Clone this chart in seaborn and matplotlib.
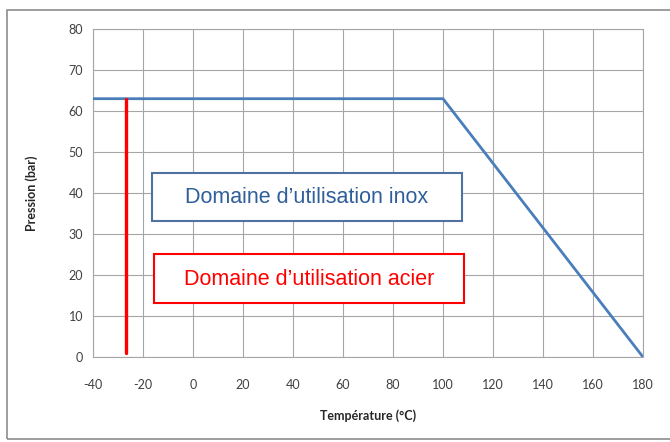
import matplotlib
matplotlib.use("Agg")
import matplotlib.pyplot as plt
import seaborn as sns
import pandas as pd
from matplotlib.patches import Rectangle

# Données
temperature_inox = [-40, 100, 180]
pression_inox = [63, 63, 0]
temperature_acier = [-27, -27]
pression_acier = [1, 63]

x_ticks = list(range(-40, 181, 20))
y_ticks = list(range(0, 81, 10))

label_inox = "Domaine d\u2019utilisation inox"
label_acier = "Domaine d\u2019utilisation acier"

sns.set_style("white")
plt.rcParams['font.family'] = ['Lato', 'DejaVu Sans']
plt.rcParams['axes.unicode_minus'] = False

df_inox = pd.DataFrame({"T": temperature_inox, "P": pression_inox})
df_acier = pd.DataFrame({"T": temperature_acier, "P": pression_acier})

fig = plt.figure(figsize=(6.7, 4.42), dpi=100)
ax = fig.add_axes([93 / 670, 85 / 442, 550 / 670, 328 / 442])

# cadre extérieur
fig.patches.append(Rectangle((7 / 670, 3 / 442), 700 / 670, 429 / 442,
                             transform=fig.transFigure, fill=False,
                             edgecolor='#8c8c8c', linewidth=1.2))

sns.lineplot(data=df_inox, x="T", y="P", ax=ax, color='#4a7ebb', linewidth=2.0,
             estimator=None, sort=False, zorder=3)
sns.lineplot(data=df_acier, x="T", y="P", ax=ax, color='#ff0000', linewidth=2.4,
             estimator=None, sort=False, zorder=3)

ax.set_xlim(-40, 180)
ax.set_ylim(0, 80)
ax.set_xticks(x_ticks)
ax.set_yticks(y_ticks)
ax.grid(True, color='#a6a6a6', linewidth=0.8)
for s in ax.spines.values():
    s.set_color('#a6a6a6')
    s.set_linewidth(0.8)
ax.tick_params(axis='both', direction='out', length=4, width=0.8, color='#a6a6a6',
               labelsize=9, labelcolor='#404040', pad=3)
ax.tick_params(axis='x', pad=12)

ax.set_xlabel("Température (°C)", fontsize=9, fontweight='bold', color='#262626', labelpad=13)
ax.set_ylabel("Pression (bar)", fontsize=9, fontweight='bold', color='#262626', labelpad=22)

# boîtes de texte
ax.add_patch(Rectangle((-16.4, 33.2), 124, 11.7, facecolor='white',
                       edgecolor='#4f72a0', linewidth=1.5, zorder=4))
ax.text(45.6, 38.8, label_inox, ha='center', va='center', fontsize=15.5,
        color='#2f5f9a', family=['Liberation Sans', 'DejaVu Sans'], zorder=5)

ax.add_patch(Rectangle((-15.6, 13.2), 124, 11.9, facecolor='white',
                       edgecolor='#ff0000', linewidth=1.5, zorder=4))
ax.text(46.4, 18.9, label_acier, ha='center', va='center', fontsize=15.5,
        color='#ff0000', family=['Liberation Sans', 'DejaVu Sans'], zorder=5)

fig.savefig("out.png", dpi=100)
